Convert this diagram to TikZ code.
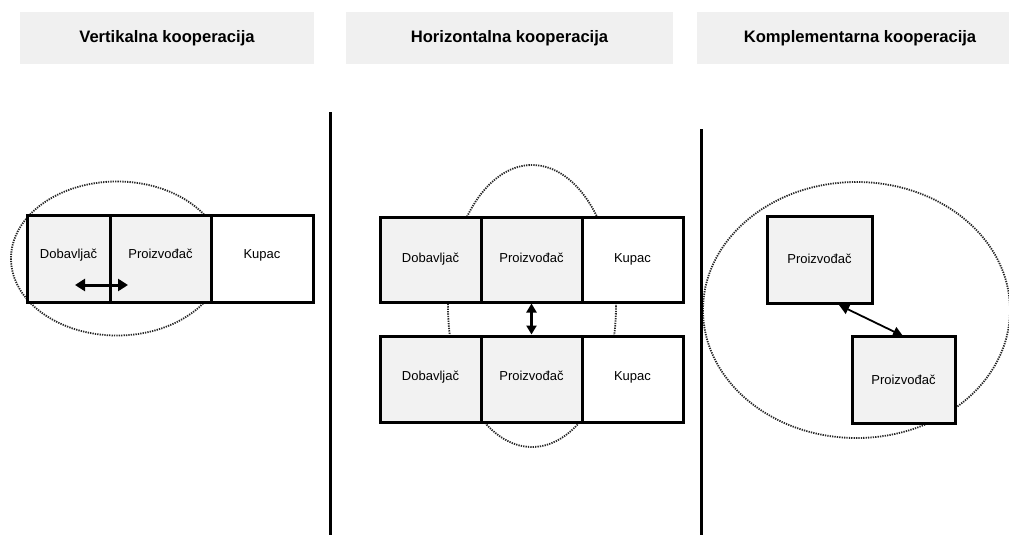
\documentclass[tikz,border=0pt]{standalone}
\usepackage{fontspec}
\setmainfont{Liberation Sans}
\usetikzlibrary{arrows.meta}
\definecolor{cellgray}{HTML}{F2F2F2}
\definecolor{headgray}{HTML}{F0F0F0}
\definecolor{dotgray}{HTML}{262626}

\begin{document}
\begin{tikzpicture}[x=1pt,y=-1pt,
  header/.style={fill=headgray, draw=none, minimum height=52pt, inner sep=0pt,
    font=\fontsize{16.6}{20}\selectfont\bfseries},
  cell/.style={draw=black, line width=3pt, fill=white, inner sep=0pt,
    font=\fontsize{13}{15}\selectfont},
  graycell/.style={cell, fill=cellgray},
  ring/.style={draw=dotgray, line width=1.8pt, dash pattern=on 1.3pt off 1.1pt},
  divider/.style={draw=black, line width=3pt},
  thickarrow/.style={line width=3pt, {Triangle[length=10pt,width=12pt]}-{Triangle[length=10pt,width=12pt]}},
  thinarrow/.style={line width=1.8pt, {Triangle[length=10pt,width=10pt]}-{Triangle[length=10pt,width=10pt]}}
]
\useasboundingbox (0,0) rectangle (1009,535);

% column headings
\node[header, minimum width=294pt] (h1) at (167,38) {Vertikalna kooperacija};
\node[header, minimum width=327pt] (h2) at (509.5,38) {Horizontalna kooperacija};
\node[header, minimum width=326pt] (h3) at (860,38) {Komplementarna kooperacija};

% dotted cooperation rings (behind the boxes)
\draw[ring] (117,258.5) ellipse [x radius=106, y radius=77];
\draw[ring] (532,306) ellipse [x radius=84, y radius=141];
\draw[ring] (856.5,310) ellipse [x radius=153.5, y radius=128];

% vertical cooperation
\node[graycell, minimum width=83pt, minimum height=87pt] (vd) at (68.5,258.5) {\raisebox{9pt}{Dobavljač}};
\node[graycell, minimum width=101pt, minimum height=87pt] (vp) at (160.5,258.5) {\raisebox{9pt}{Proizvođač}};
\node[cell, minimum width=102pt, minimum height=87pt] (vk) at (262,258.5) {\raisebox{9pt}{Kupac}};
\coordinate (va) at (75,285);
\coordinate (vb) at (128,285);
\draw[thickarrow] (va) -- (vb);

% horizontal cooperation
\node[graycell, minimum width=101pt, minimum height=85pt] (hd1) at (430.5,259.5) {\raisebox{3pt}{Dobavljač}};
\node[graycell, minimum width=101pt, minimum height=85pt] (hp1) at (531.5,259.5) {\raisebox{3pt}{Proizvođač}};
\node[cell, minimum width=101pt, minimum height=85pt] (hk1) at (632.5,259.5) {\raisebox{3pt}{Kupac}};
\node[graycell, minimum width=101pt, minimum height=86pt] (hd2) at (430.5,379) {\raisebox{6pt}{Dobavljač}};
\node[graycell, minimum width=101pt, minimum height=86pt] (hp2) at (531.5,379) {\raisebox{6pt}{Proizvođač}};
\node[cell, minimum width=101pt, minimum height=86pt] (hk2) at (632.5,379) {\raisebox{6pt}{Kupac}};
\draw[line width=3pt, {Triangle[length=9pt,width=10pt]}-{Triangle[length=9pt,width=10pt]}] (hp1.south) -- (hp2.north);

% complementary cooperation
\node[graycell, minimum width=105pt, minimum height=87pt] (cp1) at (819.5,259.5) {\raisebox{2pt}{Proizvođač}};
\node[graycell, minimum width=103pt, minimum height=87pt] (cp2) at (903.5,379.5) {\raisebox{-1pt}{Proizvođač}};
\coordinate (ca) at (839,305);
\coordinate (cb) at (903,336);
\draw[thinarrow] (ca) -- (cb);

% column dividers
\coordinate (d1t) at (330,112);
\coordinate (d1b) at (330,535);
\coordinate (d2t) at (701,129);
\coordinate (d2b) at (701,535);
\draw[divider] (d1t) -- (d1b);
\draw[divider] (d2t) -- (d2b);
\end{tikzpicture}
\end{document}
